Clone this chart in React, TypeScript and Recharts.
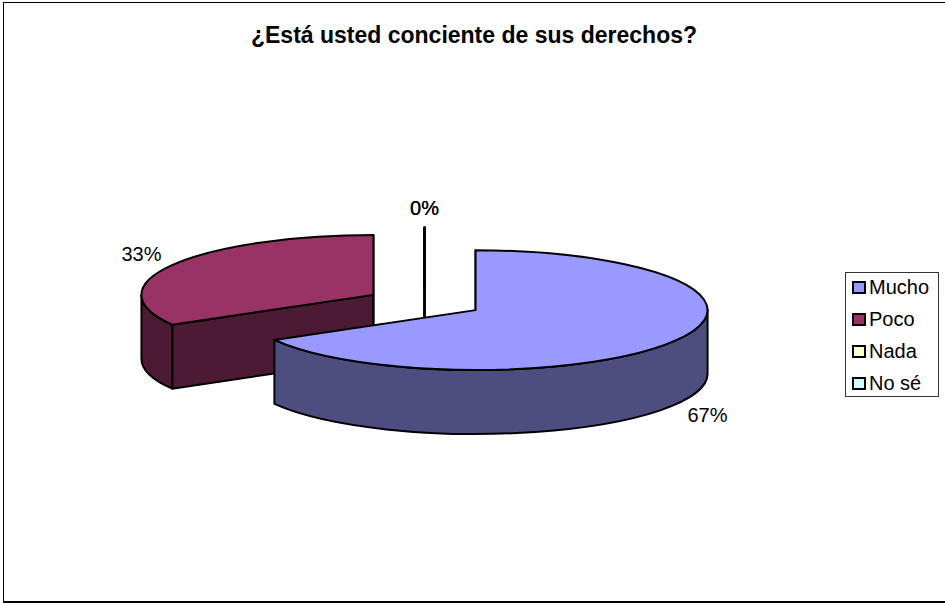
import React from 'react';
import { PieChart, Pie, Legend } from 'recharts';

const categories = ['Mucho', 'Poco', 'Nada', 'No sé'];
const values = [66.7, 33.3, 0, 0];
const topColors = ['#9999FF', '#993366', '#FFFFCC', '#CCFFFF'];
const wallColors = ['#4D4D80', '#4D1A33', '#808066', '#668080'];

// 3D look of the old Excel pie
const TILT = 0.258;
const DEPTH = 64;
const EXPLODE = 59;
const RAD = Math.PI / 180;
const LINE = 2;

// Mucho has to be painted last, it sits in front of the other slices
const drawOrder = [1, 2, 3, 0];
const pieData = drawOrder.map(i => ({
  name: categories[i],
  value: values[i],
  fill: topColors[i],
  wall: wallColors[i],
}));
const startAngle = 90 + (values[1] / 100) * 360;

const pt = (cx: number, cy: number, r: number, a: number) => ({
  x: cx + r * Math.cos(a * RAD),
  y: cy - r * TILT * Math.sin(a * RAD),
});

const center = (props: any) => ({
  x: props.cx + EXPLODE * Math.cos(-props.midAngle * RAD),
  y: props.cy + EXPLODE * TILT * Math.sin(-props.midAngle * RAD),
});

const Slice3D = (props: any) => {
  const { outerRadius: r, startAngle: s, endAngle: e, fill, wall } = props;
  const c = center(props);
  const ry = r * TILT;
  const a = pt(c.x, c.y, r, s);
  const b = pt(c.x, c.y, r, e);
  const large = Math.abs(s - e) > 180 ? 1 : 0;
  const top = `M${c.x},${c.y} L${a.x},${a.y} A${r},${ry} 0 ${large} 1 ${b.x},${b.y} Z`;

  // outer wall, only the part on the front half of the ellipse
  const walls: string[] = [];
  [[0, -180], [360, 180]].forEach(([hi, lo]) => {
    const from = Math.min(s, hi);
    const to = Math.max(e, lo);
    if (from > to) {
      const p = pt(c.x, c.y, r, from);
      const q = pt(c.x, c.y, r, to);
      walls.push(
        `M${p.x},${p.y} A${r},${ry} 0 0 1 ${q.x},${q.y} L${q.x},${q.y + DEPTH} A${r},${ry} 0 0 0 ${p.x},${p.y + DEPTH} Z`,
      );
    }
  });

  // cut faces that look towards the viewer
  const faces: string[] = [];
  const face = (p: { x: number; y: number }) =>
    `M${c.x},${c.y} L${p.x},${p.y} L${p.x},${p.y + DEPTH} L${c.x},${c.y + DEPTH} Z`;
  if (Math.sin((s + 90) * RAD) < 0.001) faces.push(face(a));
  if (Math.sin((e - 90) * RAD) < 0.001) faces.push(face(b));

  return (
    <g>
      {faces.map((d, i) => <path key={i} d={d} fill={wall} stroke="#000" strokeWidth={LINE} strokeLinejoin="round" />)}
      {walls.map((d, i) => <path key={i} d={d} fill={wall} stroke="#000" strokeWidth={LINE} strokeLinejoin="round" />)}
      <path d={top} fill={fill} stroke="#000" strokeWidth={LINE} strokeLinejoin="round" />
    </g>
  );
};

const SliceLabel = (props: any) => {
  const { outerRadius: r, midAngle, percent } = props;
  const c = center(props);
  const p = pt(c.x, c.y, r + 36, midAngle);
  const front = Math.sin(midAngle * RAD) < 0;
  const back = midAngle > 80 && midAngle < 100;
  return (
    <text
      x={p.x}
      y={p.y + (front ? DEPTH + 6 : back ? -10 : -6)}
      textAnchor="middle"
      dominantBaseline="central"
      fontFamily="Liberation Sans"
      fontSize={20}
      fill="#000"
    >
      {`${Math.round(percent * 100)}%`}
    </text>
  );
};

const LegendBox = () => (
  <div
    style={{
      width: 94,
      height: 125,
      border: '1px solid #333',
      boxSizing: 'border-box',
      background: '#fff',
      fontFamily: 'Liberation Sans',
      fontSize: 20,
      color: '#000',
    }}
  >
    {categories.map((name, i) => (
      <div
        key={name}
        style={{ height: 32, marginTop: i === 0 ? -2 : 0, display: 'flex', alignItems: 'center', paddingLeft: 6 }}
      >
        <span
          style={{
            flex: 'none',
            width: 14,
            height: 13,
            boxSizing: 'border-box',
            border: '2px solid #000',
            background: topColors[i],
            marginRight: 3,
          }}
        />
        {name}
      </div>
    ))}
  </div>
);

export default function App() {
  return (
    <div style={{ position: 'absolute', left: 0, top: 0, width: 945, height: 603, background: '#fff' }}>
      <div
        style={{
          position: 'absolute',
          left: 3,
          top: 2,
          width: 942,
          height: 601,
          boxSizing: 'border-box',
          borderTop: '1.5px solid #000',
          borderLeft: '1.5px solid #000',
          borderBottom: '2px solid #000',
        }}
      />
      <div
        style={{
          position: 'absolute',
          left: 0,
          width: 948,
          top: 22,
          textAlign: 'center',
          fontFamily: 'Liberation Sans',
          fontWeight: 'bold',
          fontSize: 23,
          color: '#000',
        }}
      >
        ¿Está usted conciente de sus derechos?
      </div>
      <PieChart
        width={945}
        height={603}
        margin={{ top: 0, right: 0, bottom: 0, left: 0 }}
        style={{ position: 'absolute', left: 0, top: 0 }}
      >
        <Pie
          data={pieData}
          dataKey="value"
          nameKey="name"
          cx={424.5}
          cy={302.5}
          outerRadius={232}
          startAngle={startAngle}
          endAngle={startAngle - 360}
          shape={Slice3D}
          label={SliceLabel}
          labelLine={false}
          isAnimationActive={false}
        />
        <Legend
          layout="vertical"
          align="right"
          verticalAlign="top"
          content={LegendBox}
          wrapperStyle={{ position: 'absolute', left: 845, top: 272, width: 94 }}
        />
      </PieChart>
    </div>
  );
}
